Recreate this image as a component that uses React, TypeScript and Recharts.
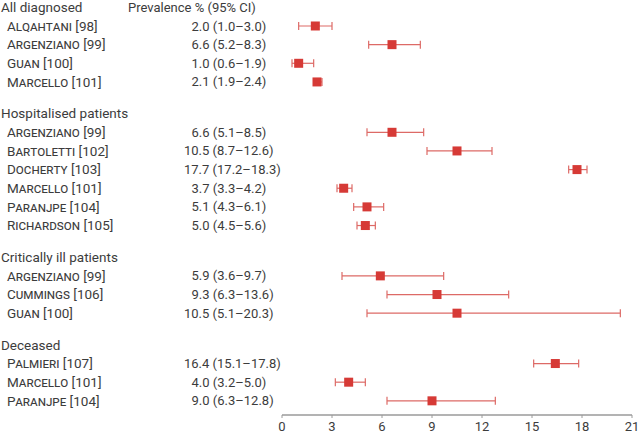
import React from "react";
import {
  ErrorBar,
  Scatter,
  ScatterChart,
  XAxis,
  YAxis,
} from "recharts";

const GROUPS = [
  "All diagnosed",
  "Hospitalised patients",
  "Critically ill patients",
  "Deceased",
];

const STUDY_GROUP = [0, 0, 0, 0, 1, 1, 1, 1, 1, 1, 2, 2, 2, 3, 3, 3];

const STUDY_NAMES = [
  "Alqahtani",
  "Argenziano",
  "Guan",
  "Marcello",
  "Argenziano",
  "Bartoletti",
  "Docherty",
  "Marcello",
  "Paranjpe",
  "Richardson",
  "Argenziano",
  "Cummings",
  "Guan",
  "Palmieri",
  "Marcello",
  "Paranjpe",
];

const STUDY_REFS = [98, 99, 100, 101, 99, 102, 103, 101, 104, 105, 99, 106, 100, 107, 101, 104];

const ESTIMATE = [2.0, 6.6, 1.0, 2.1, 6.6, 10.5, 17.7, 3.7, 5.1, 5.0, 5.9, 9.3, 10.5, 16.4, 4.0, 9.0];
const LOWER = [1.0, 5.2, 0.6, 1.9, 5.1, 8.7, 17.2, 3.3, 4.3, 4.5, 3.6, 6.3, 5.1, 15.1, 3.2, 6.3];
const UPPER = [3.0, 8.3, 1.9, 2.4, 8.5, 12.6, 18.3, 4.2, 6.1, 5.6, 9.7, 13.6, 20.3, 17.8, 5.0, 12.8];

const X_TICKS = [0, 3, 6, 9, 12, 15, 18, 21];

const COLUMN_TITLE = "Prevalence % (95% CI)";

// layout: one unit per row, groups separated by an extra gap
const GROUP_GAP = 1.7;
const TEXT = "#3c3c3c";
const FONT = "Roboto, sans-serif";
const MARKER = "#d63a36";
const WHISKER = "#dd6a66";

type Row = {
  kind: "header" | "study";
  u: number;
  label: string;
  est?: number;
  lo?: number;
  hi?: number;
  ref?: number;
  err?: [number, number];
  x: number;
};

function buildRows(): Row[] {
  const rows: Row[] = [];
  let u = 0;
  GROUPS.forEach((g, gi) => {
    if (gi > 0) u += GROUP_GAP;
    rows.push({ kind: "header", u, label: g, x: 0 });
    STUDY_NAMES.forEach((name, i) => {
      if (STUDY_GROUP[i] !== gi) return;
      u += 1;
      rows.push({
        kind: "study",
        u,
        label: name,
        ref: STUDY_REFS[i],
        est: ESTIMATE[i],
        lo: LOWER[i],
        hi: UPPER[i],
        err: [ESTIMATE[i] - LOWER[i], UPPER[i] - ESTIMATE[i]],
        x: ESTIMATE[i],
      });
    });
  });
  return rows;
}

const rows = buildRows();
const studies = rows.filter((r) => r.kind === "study");

function fmt(v: number) {
  return v.toFixed(1);
}

function LabelShape(props: any) {
  const { cy, payload } = props;
  const r = payload as Row;
  if (r.kind === "header") {
    return (
      <g>
        <text x={1} y={cy} dy="0.35em" fontSize={13.5} fill={TEXT} fontFamily={FONT}>
          {r.label}
        </text>
        {r.u === 0 && (
          <text x={128} y={cy} dy="0.35em" fontSize={13} fill={TEXT} fontFamily={FONT}>
            {COLUMN_TITLE}
          </text>
        )}
      </g>
    );
  }
  const est = r.est as number;
  const valueX = est < 10 ? 191.5 : 184;
  return (
    <g>
      <text x={7} y={cy} dy="0.35em" fontSize={13.5} fill={TEXT} fontFamily={FONT}>
        <tspan style={{ fontVariant: "small-caps" }}>{r.label}</tspan> [{r.ref}]
      </text>
      <text x={valueX} y={cy} dy="0.35em" fontSize={13} fill={TEXT} fontFamily={FONT}>
        {`${fmt(est)} (${fmt(r.lo as number)}\u2013${fmt(r.hi as number)})`}
      </text>
    </g>
  );
}

function SquareShape(props: any) {
  const { cx, cy } = props;
  return <rect x={cx - 4.5} y={cy - 4.5} width={9} height={9} fill={MARKER} />;
}

export default function App() {
  return (
    <div style={{ position: "absolute", left: 0, top: 0, background: "#fff" }}>
      <ScatterChart
        width={640}
        height={436}
        margin={{ top: 0, right: 8, bottom: 0, left: 282 }}
      >
        <XAxis
          type="number"
          dataKey="x"
          domain={[0, 21]}
          ticks={X_TICKS}
          interval={0}
          height={21}
          axisLine={{ stroke: "#9a9a9a", strokeWidth: 1.5 }}
          tickLine={{ stroke: "#9a9a9a" }}
          tickSize={3}
          tickMargin={4}
          tick={{ fill: TEXT, fontSize: 13, fontFamily: FONT }}
        />
        <YAxis
          type="number"
          dataKey="u"
          hide
          reversed
          domain={[-0.394, 21.86]}
        />
        <Scatter
          data={rows}
          dataKey="u"
          shape={LabelShape}
          isAnimationActive={false}
        />
        <Scatter
          data={studies}
          dataKey="u"
          shape={SquareShape}
          isAnimationActive={false}
        >
          <ErrorBar
            dataKey="err"
            direction="x"
            width={4}
            stroke={WHISKER}
            strokeWidth={1.2}
          />
        </Scatter>
      </ScatterChart>
    </div>
  );
}
